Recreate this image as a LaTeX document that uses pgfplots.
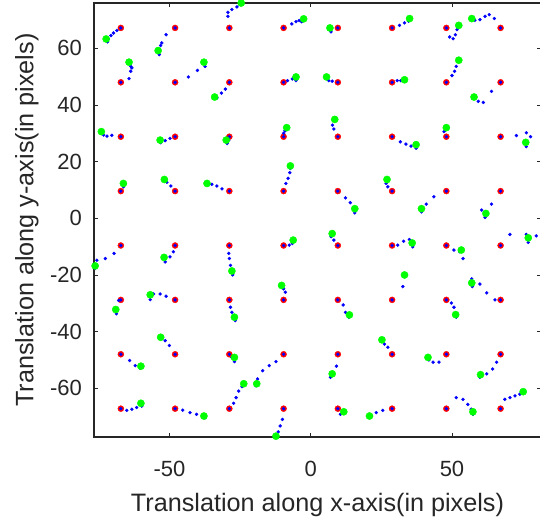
\documentclass[border=0pt]{standalone}
\usepackage{pgfplots}
\usepackage{pgfplotstable}
\pgfplotsset{compat=1.18}
\usepackage{fontspec}
\setmainfont{Liberation Sans}
\definecolor{axisgray}{RGB}{38,38,38}

\pgfplotstableread{
x y
-67.2 67.2
-48 67.2
-28.8 67.2
-9.6 67.2
9.6 67.2
28.8 67.2
48 67.2
67.2 67.2
-67.2 48
-48 48
-28.8 48
-9.6 48
9.6 48
28.8 48
48 48
67.2 48
-67.2 28.8
-48 28.8
-28.8 28.8
-9.6 28.8
9.6 28.8
28.8 28.8
48 28.8
67.2 28.8
-67.2 9.6
-48 9.6
-28.8 9.6
-9.6 9.6
9.6 9.6
28.8 9.6
48 9.6
67.2 9.6
-67.2 -9.6
-48 -9.6
-28.8 -9.6
-9.6 -9.6
9.6 -9.6
28.8 -9.6
48 -9.6
67.2 -9.6
-67.2 -28.8
-48 -28.8
-28.8 -28.8
-9.6 -28.8
9.6 -28.8
28.8 -28.8
48 -28.8
67.2 -28.8
-67.2 -48
-48 -48
-28.8 -48
-9.6 -48
9.6 -48
28.8 -48
48 -48
67.2 -48
-67.2 -67.2
-48 -67.2
-28.8 -67.2
-9.6 -67.2
9.6 -67.2
28.8 -67.2
48 -67.2
67.2 -67.2
}\redtab

\pgfplotstableread{
x y
-72.4 63.3
-54.0 59.2
-24.6 76.0
-2.5 70.4
6.8 67.2
35.0 70.5
52.4 68.1
57.0 70.5
-64.3 55.1
-37.8 55.1
-34.0 42.8
-5.2 49.9
5.6 49.9
33.2 48.9
52.4 55.8
57.8 42.8
-74.1 30.6
-53.3 27.6
-29.9 27.6
-8.5 32.0
8.5 34.9
37.3 26.0
48 32.0
76.1 26.8
-66.3 12.3
-51.8 13.7
-36.7 12.3
-7.2 18.5
15.6 3.4
27.0 13.7
39.2 3.4
62.0 1.7
-76.3 -16.8
-51.9 -13.8
-27.9 -18.6
-6.2 -7.7
7.6 -5.4
35.9 -8.7
53.3 -11.2
77.0 -6.9
-69.0 -32.2
-56.8 -27.0
-27.0 -34.9
-10.3 -23.7
13.7 -34.1
33.2 -20.0
51.3 -34.0
57.0 -22.8
-60.1 -52.2
-53.1 -42.0
-27.0 -49.1
-19.1 -58.4
7.6 -54.9
25.2 -42.9
41.5 -49.1
60.1 -55.2
-60.1 -65.3
-37.8 -69.8
-23.7 -58.4
-12.3 -76.9
11.7 -68.3
20.8 -69.8
57.4 -68.3
75.2 -61.2
}\greentab

\pgfplotstableread{
x y
-67.2 67.2
-68.6 66.3
-69.8 65.4
-70.7 64.5
-71.6 63.3
-71.9 62.3
-48 67.2
-51.2 64.8
-52.7 61.9
-53.1 61.0
-53.6 57.8
-28.8 67.2
-29.3 71.3
-29.3 72.7
-27.9 73.7
-26.1 74.6
-24.9 75.4
-9.6 67.2
-6.7 68.6
-5.2 69.4
-4.1 69.8
-3.2 69.4
-67.2 48
-64.3 49.3
-63.7 51.9
-63.3 53.1
-63.7 53.6
-48 48
-43.3 49.9
-40.1 52.2
-37.4 53.6
-28.8 48
-30.2 45.6
-31.6 44.2
-33.2 42.5
-9.6 48
-8.2 48.6
-6.5 49.2
-5.2 48.6
-67.2 28.8
-70.4 29.3
-72.1 29.0
-73.3 29.4
-48 28.8
-49.8 28.2
-51.5 27.4
-53.1 26.7
-28.8 28.8
-29.0 27.6
-29.6 26.4
-9.6 28.8
-9.6 30.0
-9.1 30.9
-67.2 9.6
-66.3 11.1
-48 9.6
-49.5 11.4
-50.9 12.7
-28.8 9.6
-31.4 10.4
-33.2 11.4
-35.0 12.0
-9.6 9.6
-8.8 12.3
-8.0 14.1
-7.4 16.1
-7.2 17.6
9.6 67.2
7.2 65.8
6.8 66.4
28.8 67.2
31.4 68.1
33.2 69.0
34.6 69.6
48 67.2
49.2 64.0
50.4 63.4
51.2 64.8
51.8 66.6
67.2 67.2
65.0 70.5
63.2 71.9
61.7 71.3
59.9 70.1
58.1 69.9
9.6 48
7.6 48.4
6.4 48.6
28.8 48
30.6 48.6
31.9 48.6
48 48
50.0 50.4
50.9 51.9
51.5 53.6
67.2 48
64.0 44.8
61.1 40.9
59.3 41.3
9.6 28.8
8.2 31.5
7.7 32.9
28.8 28.8
31.7 27.0
33.7 26.2
35.5 25.5
37.3 24.7
48 28.8
47.2 30.6
47.8 31.2
67.2 28.8
72.8 29.2
76.3 30.2
77.8 28.8
76.3 25.3
9.6 9.6
12.3 7.2
14.0 5.5
15.6 1.9
28.8 9.6
27.3 11.1
26.7 12.3
48 9.6
43.6 7.6
40.9 5.0
39.2 2.3
67.2 9.6
64.0 5.0
60.5 2.9
61.7 0.3
-67.2 -9.6
-69.6 -12.4
-72.7 -14.2
-75.7 -14.8
-76.3 -17.7
-48 -9.6
-48.6 -11.8
-49.8 -13.6
-51.5 -15.4
-28.8 -9.6
-29.0 -12.4
-28.8 -14.2
-28.4 -16.6
-27.6 -20.0
-9.6 -9.6
-7.6 -9.5
-6.5 -8.9
-67.2 -28.8
-68.0 -29.0
-68.6 -32.0
-68.8 -33.7
-48 -28.8
-51.2 -27.5
-53.3 -26.7
-55.6 -26.7
-56.8 -28.7
-28.8 -28.8
-28.4 -31.4
-27.9 -33.2
-26.7 -36.1
-9.6 -28.8
-9.0 -26.1
-9.6 -24.9
-67.2 -48
-64.1 -50.2
-62.1 -52.0
-60.4 -52.9
-48 -48
-50.0 -44.9
-51.5 -43.2
-28.8 -48
-27.9 -49.1
-27.0 -50.6
-9.6 -48
-12.3 -50.6
-14.7 -52.0
-17.0 -53.8
-18.8 -56.7
-19.4 -59.1
-67.2 -67.2
-65.1 -67.8
-63.3 -67.4
-61.6 -66.8
-59.8 -66.3
-48 -67.2
-45.3 -67.7
-42.7 -68.6
-40.4 -69.2
-37.4 -70.4
-28.8 -67.2
-27.3 -65.3
-26.4 -63.3
-25.5 -61.0
-24.3 -59.4
-9.6 -67.2
-10.0 -71.0
-10.8 -73.3
-11.5 -75.4
-12.0 -77.0
9.6 -9.6
8.2 -7.7
7.2 -6.5
28.8 -9.6
30.8 -9.5
32.9 -8.1
34.9 -7.5
36.1 -10.1
48 -9.6
50.7 -11.2
52.7 -11.8
53.9 -14.2
67.2 -9.6
70.5 -5.7
76.3 -5.7
79.8 -6.2
77.0 -8.5
9.6 -28.8
11.5 -30.6
12.3 -33.2
13.5 -34.9
28.8 -28.8
32.6 -24.1
48 -28.8
49.8 -29.9
50.7 -31.4
51.5 -34.9
67.2 -28.8
65.2 -28.8
62.3 -26.3
59.9 -23.2
57.0 -21.4
57.2 -24.1
9.6 -48
9.1 -52.2
7.0 -56.1
28.8 -48
27.3 -45.5
26.1 -44.4
48 -48
45.4 -50.8
43.3 -50.8
41.8 -50.0
67.2 -48
65.8 -50.8
64.4 -53.2
62.3 -54.9
59.9 -56.1
9.6 -67.2
10.5 -69.2
11.7 -68.6
28.8 -67.2
25.5 -67.8
23.2 -68.6
20.8 -70.0
48 -67.2
51.5 -63.3
53.9 -63.9
55.6 -65.7
56.8 -67.4
57.4 -69.2
67.2 -67.2
68.7 -63.9
70.5 -63.3
72.3 -62.7
74.0 -62.1
}\bluetab

\begin{document}
\begin{tikzpicture}
\path[use as bounding box] (-94pt,-85pt) rectangle (446pt,437pt);
\begin{axis}[
  at={(0pt,0pt)}, anchor=south west,
  scale only axis,
  width=447pt, height=434pt,
  xmin=-76.7, xmax=81.5, ymin=-77.2, ymax=76,
  xtick={-50,0,50},
  ytick={-60,-40,-20,0,20,40,60},
  tick align=inside,
  major tick length=4pt,
  axis line style={line width=1.5pt, draw=axisgray},
  tick style={draw=axisgray, line width=0.8pt},
  /pgf/number format/assume math mode=true,
  ticklabel style={font=\fontsize{22}{26}\selectfont, text=axisgray, inner sep=0pt},
  xticklabel style={anchor=north, yshift=-24pt},
  yticklabel style={anchor=east, xshift=-12pt},
  xlabel={Translation along x-axis(in pixels)},
  ylabel={Translation along y-axis(in pixels)},
  label style={font=\fontsize{25.2}{30}\selectfont, text=axisgray, inner sep=0pt},
  xlabel style={at={(axis description cs:0.5,-0.129)}, anchor=north},
  ylabel style={at={(axis description cs:-0.1767,0.5)}, anchor=north, rotate=0},
  clip marker paths=false,
]
\addplot[only marks, mark=*, mark size=3pt, draw=red, fill=red] table {\redtab};
\addplot[only marks, mark=*, mark size=1.5pt, draw=blue, fill=blue] table {\bluetab};
\addplot[only marks, mark=*, mark size=3.6pt, draw=green, fill=green] table {\greentab};
\end{axis}
\end{tikzpicture}
\end{document}
